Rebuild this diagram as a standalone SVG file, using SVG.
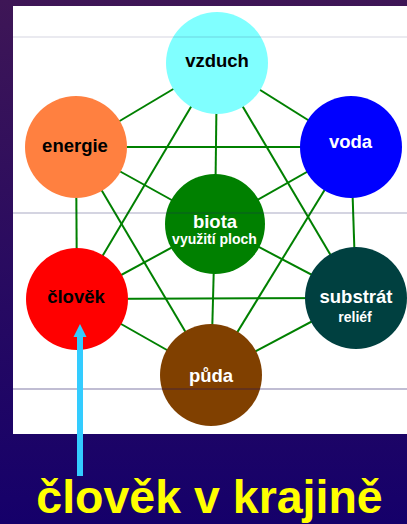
<svg xmlns="http://www.w3.org/2000/svg" width="407" height="524" viewBox="0 0 407 524">
<defs>
<linearGradient id="bg" x1="0" y1="0" x2="0" y2="1">
<stop offset="0" stop-color="#3e1656"/>
<stop offset="1" stop-color="#15006a"/>
</linearGradient>
</defs>
<style>
.ln{stroke:#008000;stroke-width:2;fill:none}
.t{font-family:"Liberation Sans",Arial,sans-serif;font-weight:bold;text-anchor:middle}
.m{font-size:18.5px}
.s{font-size:14px}
.dk{fill:#000}
.wh{fill:#fff}
</style>
<rect x="0" y="0" width="407" height="524" fill="url(#bg)"/>
<rect x="13" y="6" width="394" height="428" fill="#fff"/>
<g id="connectors">
<line class="ln" x1="217" y1="63" x2="76" y2="147"/>
<line class="ln" x1="217" y1="63" x2="351" y2="147"/>
<line class="ln" x1="217" y1="63" x2="77" y2="299"/>
<line class="ln" x1="217" y1="63" x2="356" y2="298"/>
<line class="ln" x1="217" y1="63" x2="215" y2="224"/>
<line class="ln" x1="76" y1="147" x2="351" y2="147"/>
<line class="ln" x1="76" y1="147" x2="77" y2="299"/>
<line class="ln" x1="76" y1="147" x2="215" y2="224"/>
<line class="ln" x1="76" y1="147" x2="211" y2="375"/>
<line class="ln" x1="351" y1="147" x2="356" y2="298"/>
<line class="ln" x1="351" y1="147" x2="215" y2="224"/>
<line class="ln" x1="351" y1="147" x2="211" y2="375"/>
<line class="ln" x1="77" y1="299" x2="215" y2="224"/>
<line class="ln" x1="77" y1="299" x2="356" y2="298"/>
<line class="ln" x1="77" y1="299" x2="211" y2="375"/>
<line class="ln" x1="356" y1="298" x2="215" y2="224"/>
<line class="ln" x1="356" y1="298" x2="211" y2="375"/>
<line class="ln" x1="215" y1="224" x2="211" y2="375"/>
</g>
<g id="vzduch"><circle cx="217" cy="63" r="51" fill="#80ffff"/><text class="t m dk" x="217" y="67">vzduch</text></g>
<g id="energie"><circle cx="76" cy="147" r="51" fill="#ff8040"/><text class="t m dk" x="75" y="152">energie</text></g>
<g id="voda"><circle cx="351" cy="147" r="51" fill="#0000ff"/><text class="t m wh" x="350.5" y="148">voda</text></g>
<g id="biota"><circle cx="215" cy="224" r="50" fill="#008000"/><text class="t m wh" x="215" y="228">biota</text><text class="t s wh" x="214.5" y="244">využití ploch</text></g>
<g id="clovek"><circle cx="77" cy="299" r="51" fill="#ff0000"/><text class="t m dk" x="76" y="303">člověk</text></g>
<g id="substrat"><circle cx="356" cy="298" r="51" fill="#004040"/><text class="t m wh" x="356" y="303">substrát</text><text class="t s wh" x="355" y="321.5">reliéf</text></g>
<g id="puda"><circle cx="211" cy="375" r="51" fill="#804000"/><text class="t m wh" x="211" y="381.5">půda</text></g>
<g id="dividers">
<line x1="13" y1="37" x2="407" y2="37" stroke="#1a1a60" stroke-opacity="0.18" stroke-width="1"/>
<line x1="13" y1="213" x2="407" y2="213" stroke="#1a1a60" stroke-opacity="0.38" stroke-width="1"/>
<line x1="13" y1="389" x2="407" y2="389" stroke="#1a1060" stroke-opacity="0.55" stroke-width="1"/>
</g>
<g id="arrow">
<rect x="77" y="336" width="6" height="140" fill="#33ccff"/>
<polygon points="80,324 86.5,337 73.5,337" fill="#33ccff"/>
</g>
<g id="title"><text class="t" x="209.5" y="513" font-size="46.5" fill="#ffff00">člověk v krajině</text></g>
</svg>
